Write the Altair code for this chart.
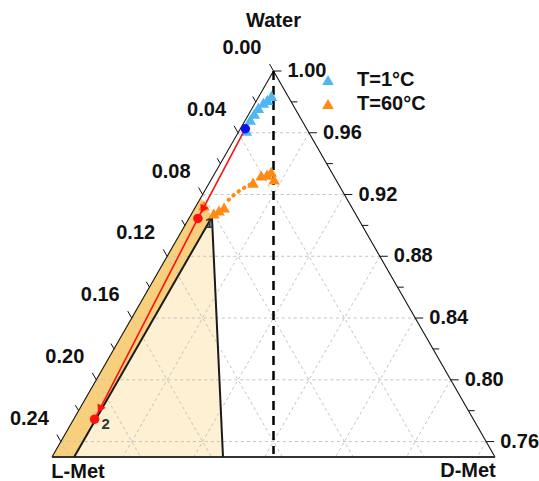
import math
import altair as alt
import pandas as pd

S3 = math.sqrt(3) / 2

# ---- data: compositions as (L-Met fraction, D-Met fraction); Water = 1 - L - D
t1_L = [0.0092, 0.0128, 0.0160, 0.0205, 0.0247, 0.0289, 0.0347]
t1_D = [0.0069, 0.0059, 0.0046, 0.0034, 0.0030, 0.0027, 0.0040]
t60_L = [0.0477, 0.0408, 0.0372, 0.0339, 0.0348, 0.0721, 0.0759, 0.0798, 0.0828]
t60_D = [0.0246, 0.0269, 0.0299, 0.0313, 0.0355, 0.0163, 0.0144, 0.0125, 0.0043]
trend_L = [0.0500, 0.0567, 0.0641, 0.0703]
trend_D = [0.0235, 0.0201, 0.0172, 0.0155]
path_L = [0.0346, 0.0904, 0.2137]   # start (blue), point 1, point 2
path_D = [0.0028, 0.0051, 0.0118]
path_labels = ["", "1", "2"]
band_L = [0.082, 0.082, 0.2375, 0.25]
band_D = [0.0, 0.0125, 0.0125, 0.0]
tri_L = [0.082, 0.2375, 0.1535]
tri_D = [0.0125, 0.0125, 0.0965]
grid_vals = [0.04, 0.08, 0.12, 0.16, 0.20, 0.24]
left_ticks = [round(0.02 * i, 2) for i in range(13)]
left_labels = [0.00, 0.04, 0.08, 0.12, 0.16, 0.20, 0.24]
right_ticks = [round(1 - 0.02 * i, 2) for i in range(13)]
right_labels = [1.00, 0.96, 0.92, 0.88, 0.84, 0.80, 0.76]
series_names = ["T=1°C", "T=60°C"]
series_colors = ["#4FB6F5", "#FF8A14"]
W_MIN = 0.75
SPAN = 1 - W_MIN

FONT = "Liberation Sans"
FS = 20
xs = alt.Scale(domain=[W_MIN / 2, W_MIN / 2 + SPAN], nice=False, zero=False)
ys = alt.Scale(domain=[W_MIN * S3, S3], nice=False, zero=False)


def calc(ch, l="L", d="D", x="X", y="Y"):
    return ch.transform_calculate(**{
        x: f"datum.{d} + (1 - datum.{l} - datum.{d}) / 2",
        y: f"(1 - datum.{l} - datum.{d}) * {S3}",
    })


def pt_enc(ch, **kw):
    return calc(ch).encode(x=alt.X("X:Q", scale=xs, axis=None),
                           y=alt.Y("Y:Q", scale=ys, axis=None), **kw)


def seg_chart(df, **mk):
    ch = alt.Chart(df).mark_rule(**mk)
    ch = calc(ch, "L1", "D1", "X", "Y")
    ch = calc(ch, "L2", "D2", "X2", "Y2")
    return ch.encode(x=alt.X("X:Q", scale=xs, axis=None), y=alt.Y("Y:Q", scale=ys, axis=None),
                     x2="X2:Q", y2="Y2:Q")


def poly_chart(Ls, Ds, **mk):
    df = pd.DataFrame({"L": Ls + [Ls[0]], "D": Ds + [Ds[0]], "o": list(range(len(Ls) + 1))})
    return pt_enc(alt.Chart(df).mark_line(**mk), order="o:Q")


# ---- fills
band = poly_chart(band_L, band_D, fill="#F8CF7C", stroke=None, strokeWidth=0)
tri = poly_chart(tri_L, tri_D, fill="#FDF0D3", stroke=None, strokeWidth=0)

# ---- grid
g = []
for c in grid_vals:
    g.append(dict(L1=c, D1=0, L2=c, D2=SPAN - c))
    g.append(dict(L1=0, D1=c, L2=SPAN - c, D2=c))
    g.append(dict(L1=c, D1=0, L2=0, D2=c))
grid = seg_chart(pd.DataFrame(g), color="#C4C4C4", strokeWidth=1, strokeDash=[3, 3])

# ---- frame
frame = seg_chart(pd.DataFrame([
    dict(L1=0, D1=0, L2=SPAN, D2=0),
    dict(L1=0, D1=0, L2=0, D2=SPAN),
]), color="#111", strokeWidth=1.1)
bottom = seg_chart(pd.DataFrame([dict(L1=SPAN, D1=0, L2=0, D2=SPAN)]), color="#333", strokeWidth=2)

# ---- ticks
tk = []
for c in left_ticks:
    ln = 0.0045 if c in left_labels else 0.0035
    tk.append(dict(L1=c, D1=0, L2=c, D2=-ln))
for c in right_ticks:
    ln = 0.0045 if c in right_labels else 0.0035
    s = round(1 - c, 4)
    tk.append(dict(L1=0, D1=s, L2=-ln, D2=s + ln))
ticks = seg_chart(pd.DataFrame(tk), color="#111", strokeWidth=1)

# ---- tick labels
ll = pd.DataFrame({"L": left_labels, "D": [0.0] * len(left_labels),
                   "t": [f"{v:.2f}" for v in left_labels]})
left_txt = pt_enc(alt.Chart(ll).mark_text(font=FONT, fontSize=FS, fontWeight="bold", align="right",
                                          baseline="middle", dx=-12, dy=-23, color="#111"), text="t:N")
rl = pd.DataFrame({"L": [0.0] * len(right_labels), "D": [round(1 - v, 4) for v in right_labels],
                   "t": [f"{v:.2f}" for v in right_labels]})
right_txt = pt_enc(alt.Chart(rl).mark_text(font=FONT, fontSize=FS, fontWeight="bold", align="left",
                                           baseline="middle", dx=14, dy=0, color="#111"), text="t:N")

# ---- vertex titles
titles = []
for name, L, D, dx, dy in [("Water", 0, 0, 0, -50), ("L-Met", SPAN, 0, 26, 15), ("D-Met", 0, SPAN, -27, 14)]:
    titles.append(pt_enc(alt.Chart(pd.DataFrame({"L": [L], "D": [D], "t": [name]})).mark_text(
        font=FONT, fontSize=FS, fontWeight="bold", align="center", baseline="middle",
        dx=dx, dy=dy, color="#111"), text="t:N"))

# ---- boundaries of the regions
bounds = seg_chart(pd.DataFrame([
    dict(L1=tri_L[0], D1=tri_D[0], L2=tri_L[1], D2=tri_D[1]),
    dict(L1=tri_L[0], D1=tri_D[0], L2=tri_L[2], D2=tri_D[2]),
]), color="#1a1a1a", strokeWidth=2)

# ---- racemic dashed line
rac = seg_chart(pd.DataFrame([dict(L1=0, D1=0, L2=0.124, D2=0.124)]),
                color="#000", strokeWidth=2.5, strokeDash=[9, 6])

# ---- T=60 trend (dotted)
trend = pt_enc(alt.Chart(pd.DataFrame({"L": trend_L, "D": trend_D, "o": range(len(trend_L))}))
               .mark_line(color=series_colors[1], strokeWidth=4, strokeDash=[0.5, 6], strokeCap="round"),
               order="o:Q")

# ---- triangles (both series) with legend
tdf = pd.DataFrame({
    "L": t1_L + t60_L, "D": t1_D + t60_D,
    "series": [series_names[0]] * len(t1_L) + [series_names[1]] * len(t60_L),
})
tris = pt_enc(alt.Chart(tdf).mark_point(shape="triangle-up", filled=True, size=135, opacity=1),
              color=alt.Color("series:N", scale=alt.Scale(domain=series_names, range=series_colors),
                              legend=alt.Legend(orient="none", legendX=266, legendY=-1, title=None,
                                                symbolType="triangle-up", symbolSize=135,
                                                symbolStrokeWidth=0, labelFont=FONT, labelFontSize=FS,
                                                labelFontWeight="bold", labelColor="#111",
                                                labelOffset=19, rowPadding=4, padding=0)))

# ---- red path with arrows
pdf = pd.DataFrame({"L": path_L, "D": path_D, "o": range(3), "lab": path_labels})
red_line = pt_enc(alt.Chart(pdf).mark_line(color="#FF1010", strokeWidth=1.6), order="o:Q")


def px(L, D):
    w = 1 - L - D
    return (D + w / 2) * 1772, -(w * S3) * 1783


arr = []
for i, t in [(0, 0.9), (1, 0.95)]:
    L = path_L[i] + t * (path_L[i + 1] - path_L[i])
    D = path_D[i] + t * (path_D[i + 1] - path_D[i])
    x0, y0 = px(path_L[i], path_D[i])
    x1, y1 = px(path_L[i + 1], path_D[i + 1])
    ang = math.degrees(math.atan2(x1 - x0, -(y1 - y0))) % 360
    arr.append(dict(L=L, D=D, ang=ang))
arrows = pt_enc(alt.Chart(pd.DataFrame(arr)).mark_point(shape="triangle-up", filled=True, size=85,
                                                          color="#FF1010", opacity=1),
                angle=alt.Angle("ang:Q", scale=None))
red_pts = pt_enc(alt.Chart(pdf.iloc[1:]).mark_point(shape="circle", filled=True, size=90,
                                                    color="#FF1010", opacity=1))
blue_pt = pt_enc(alt.Chart(pdf.iloc[:1]).mark_point(shape="circle", filled=True, size=90,
                                                    color="#1010F0", opacity=1))
num_lab = pt_enc(alt.Chart(pdf.iloc[1:]).mark_text(font=FONT, fontSize=15, fontWeight="bold",
                                                   align="left", baseline="middle", dx=7, dy=5,
                                                   color="#333"), text="lab:N")

chart = alt.layer(
    band, tri, grid, frame, bottom, ticks, bounds, rac, trend, num_lab, tris, red_line, arrows,
    red_pts, blue_pt, left_txt, right_txt, *titles
).properties(
    width=443, height=386,
    padding={"left": 52, "top": 71, "right": 44, "bottom": 24},
    autosize=alt.AutoSizeParams(type="none"),
    background="white",
).configure_view(stroke=None)

chart.save("out.html", embed_options={"renderer": "svg", "actions": False})
